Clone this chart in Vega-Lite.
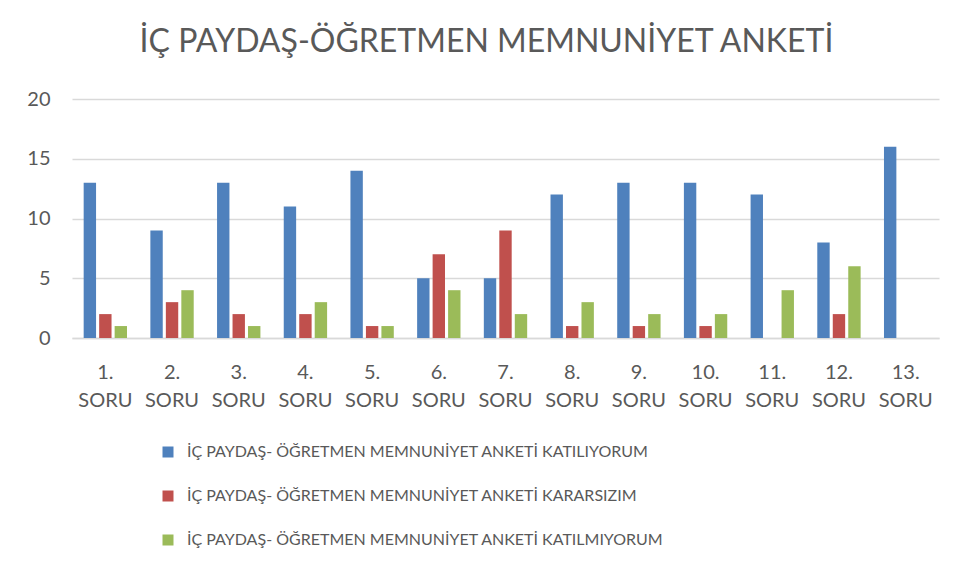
{
  "$schema": "https://vega.github.io/schema/vega-lite/v6.json",
  "autosize": {"type": "none"},
  "width": 867,
  "height": 239,
  "padding": {"left": 72, "top": 99, "right": 19, "bottom": 241},
  "background": "white",
  "title": {
    "text": "İÇ PAYDAŞ-ÖĞRETMEN MEMNUNİYET ANKETİ",
    "font": "Lato",
    "fontSize": 32,
    "fontWeight": "normal",
    "color": "#595959",
    "anchor": "middle",
    "dx": -19,
    "offset": 30
  },
  "data": {
    "values": [
      {"q": "1. SORU", "s": "İÇ PAYDAŞ- ÖĞRETMEN MEMNUNİYET ANKETİ KATILIYORUM", "v": 13},
      {"q": "1. SORU", "s": "İÇ PAYDAŞ- ÖĞRETMEN MEMNUNİYET ANKETİ KARARSIZIM", "v": 2},
      {"q": "1. SORU", "s": "İÇ PAYDAŞ- ÖĞRETMEN MEMNUNİYET ANKETİ KATILMIYORUM", "v": 1},
      {"q": "2. SORU", "s": "İÇ PAYDAŞ- ÖĞRETMEN MEMNUNİYET ANKETİ KATILIYORUM", "v": 9},
      {"q": "2. SORU", "s": "İÇ PAYDAŞ- ÖĞRETMEN MEMNUNİYET ANKETİ KARARSIZIM", "v": 3},
      {"q": "2. SORU", "s": "İÇ PAYDAŞ- ÖĞRETMEN MEMNUNİYET ANKETİ KATILMIYORUM", "v": 4},
      {"q": "3. SORU", "s": "İÇ PAYDAŞ- ÖĞRETMEN MEMNUNİYET ANKETİ KATILIYORUM", "v": 13},
      {"q": "3. SORU", "s": "İÇ PAYDAŞ- ÖĞRETMEN MEMNUNİYET ANKETİ KARARSIZIM", "v": 2},
      {"q": "3. SORU", "s": "İÇ PAYDAŞ- ÖĞRETMEN MEMNUNİYET ANKETİ KATILMIYORUM", "v": 1},
      {"q": "4. SORU", "s": "İÇ PAYDAŞ- ÖĞRETMEN MEMNUNİYET ANKETİ KATILIYORUM", "v": 11},
      {"q": "4. SORU", "s": "İÇ PAYDAŞ- ÖĞRETMEN MEMNUNİYET ANKETİ KARARSIZIM", "v": 2},
      {"q": "4. SORU", "s": "İÇ PAYDAŞ- ÖĞRETMEN MEMNUNİYET ANKETİ KATILMIYORUM", "v": 3},
      {"q": "5. SORU", "s": "İÇ PAYDAŞ- ÖĞRETMEN MEMNUNİYET ANKETİ KATILIYORUM", "v": 14},
      {"q": "5. SORU", "s": "İÇ PAYDAŞ- ÖĞRETMEN MEMNUNİYET ANKETİ KARARSIZIM", "v": 1},
      {"q": "5. SORU", "s": "İÇ PAYDAŞ- ÖĞRETMEN MEMNUNİYET ANKETİ KATILMIYORUM", "v": 1},
      {"q": "6. SORU", "s": "İÇ PAYDAŞ- ÖĞRETMEN MEMNUNİYET ANKETİ KATILIYORUM", "v": 5},
      {"q": "6. SORU", "s": "İÇ PAYDAŞ- ÖĞRETMEN MEMNUNİYET ANKETİ KARARSIZIM", "v": 7},
      {"q": "6. SORU", "s": "İÇ PAYDAŞ- ÖĞRETMEN MEMNUNİYET ANKETİ KATILMIYORUM", "v": 4},
      {"q": "7. SORU", "s": "İÇ PAYDAŞ- ÖĞRETMEN MEMNUNİYET ANKETİ KATILIYORUM", "v": 5},
      {"q": "7. SORU", "s": "İÇ PAYDAŞ- ÖĞRETMEN MEMNUNİYET ANKETİ KARARSIZIM", "v": 9},
      {"q": "7. SORU", "s": "İÇ PAYDAŞ- ÖĞRETMEN MEMNUNİYET ANKETİ KATILMIYORUM", "v": 2},
      {"q": "8. SORU", "s": "İÇ PAYDAŞ- ÖĞRETMEN MEMNUNİYET ANKETİ KATILIYORUM", "v": 12},
      {"q": "8. SORU", "s": "İÇ PAYDAŞ- ÖĞRETMEN MEMNUNİYET ANKETİ KARARSIZIM", "v": 1},
      {"q": "8. SORU", "s": "İÇ PAYDAŞ- ÖĞRETMEN MEMNUNİYET ANKETİ KATILMIYORUM", "v": 3},
      {"q": "9. SORU", "s": "İÇ PAYDAŞ- ÖĞRETMEN MEMNUNİYET ANKETİ KATILIYORUM", "v": 13},
      {"q": "9. SORU", "s": "İÇ PAYDAŞ- ÖĞRETMEN MEMNUNİYET ANKETİ KARARSIZIM", "v": 1},
      {"q": "9. SORU", "s": "İÇ PAYDAŞ- ÖĞRETMEN MEMNUNİYET ANKETİ KATILMIYORUM", "v": 2},
      {"q": "10. SORU", "s": "İÇ PAYDAŞ- ÖĞRETMEN MEMNUNİYET ANKETİ KATILIYORUM", "v": 13},
      {"q": "10. SORU", "s": "İÇ PAYDAŞ- ÖĞRETMEN MEMNUNİYET ANKETİ KARARSIZIM", "v": 1},
      {"q": "10. SORU", "s": "İÇ PAYDAŞ- ÖĞRETMEN MEMNUNİYET ANKETİ KATILMIYORUM", "v": 2},
      {"q": "11. SORU", "s": "İÇ PAYDAŞ- ÖĞRETMEN MEMNUNİYET ANKETİ KATILIYORUM", "v": 12},
      {"q": "11. SORU", "s": "İÇ PAYDAŞ- ÖĞRETMEN MEMNUNİYET ANKETİ KATILMIYORUM", "v": 4},
      {"q": "12. SORU", "s": "İÇ PAYDAŞ- ÖĞRETMEN MEMNUNİYET ANKETİ KATILIYORUM", "v": 8},
      {"q": "12. SORU", "s": "İÇ PAYDAŞ- ÖĞRETMEN MEMNUNİYET ANKETİ KARARSIZIM", "v": 2},
      {"q": "12. SORU", "s": "İÇ PAYDAŞ- ÖĞRETMEN MEMNUNİYET ANKETİ KATILMIYORUM", "v": 6},
      {"q": "13. SORU", "s": "İÇ PAYDAŞ- ÖĞRETMEN MEMNUNİYET ANKETİ KATILIYORUM", "v": 16}
    ]
  },
  "mark": {"type": "bar"},
  "encoding": {
    "x": {
      "field": "q",
      "type": "nominal",
      "sort": null,
      "scale": {"paddingInner": 0.35, "paddingOuter": 0.175},
      "axis": {
        "title": null,
        "labelAngle": 0,
        "labelExpr": "split(datum.value, ' ')",
        "labelFont": "Lato",
        "labelFontSize": 20,
        "labelColor": "#595959",
        "labelLineHeight": 28,
        "labelPadding": 24,
        "ticks": false,
        "domainColor": "#d9d9d9",
        "domainWidth": 1.5,
        "grid": false
      }
    },
    "xOffset": {
      "field": "s",
      "type": "nominal",
      "sort": null,
      "scale": {
        "domain": [
          "İÇ PAYDAŞ- ÖĞRETMEN MEMNUNİYET ANKETİ KATILIYORUM",
          "İÇ PAYDAŞ- ÖĞRETMEN MEMNUNİYET ANKETİ KARARSIZIM",
          "İÇ PAYDAŞ- ÖĞRETMEN MEMNUNİYET ANKETİ KATILMIYORUM"
        ],
        "paddingInner": 0.2,
        "paddingOuter": 0
      }
    },
    "y": {
      "field": "v",
      "type": "quantitative",
      "scale": {"domain": [0, 20]},
      "axis": {
        "title": null,
        "values": [0, 5, 10, 15, 20],
        "labelFont": "Lato",
        "labelFontSize": 20,
        "labelColor": "#595959",
        "labelPadding": 22,
        "ticks": false,
        "domain": false,
        "gridColor": "#d9d9d9",
        "gridWidth": 1.5
      }
    },
    "color": {
      "field": "s",
      "type": "nominal",
      "sort": null,
      "scale": {
        "domain": [
          "İÇ PAYDAŞ- ÖĞRETMEN MEMNUNİYET ANKETİ KATILIYORUM",
          "İÇ PAYDAŞ- ÖĞRETMEN MEMNUNİYET ANKETİ KARARSIZIM",
          "İÇ PAYDAŞ- ÖĞRETMEN MEMNUNİYET ANKETİ KATILMIYORUM"
        ],
        "range": ["#4F81BD", "#C0504D", "#9BBB59"]
      },
      "legend": {
        "title": null,
        "orient": "none",
        "legendX": 88,
        "legendY": 345,
        "direction": "vertical",
        "symbolType": "square",
        "symbolSize": 121,
        "symbolStrokeWidth": 0,
        "labelFont": "Lato",
        "labelFontSize": 16,
        "labelColor": "#595959",
        "labelOffset": 11,
        "labelLimit": 0,
        "rowPadding": 28
      }
    }
  },
  "config": {"view": {"stroke": null}}
}
